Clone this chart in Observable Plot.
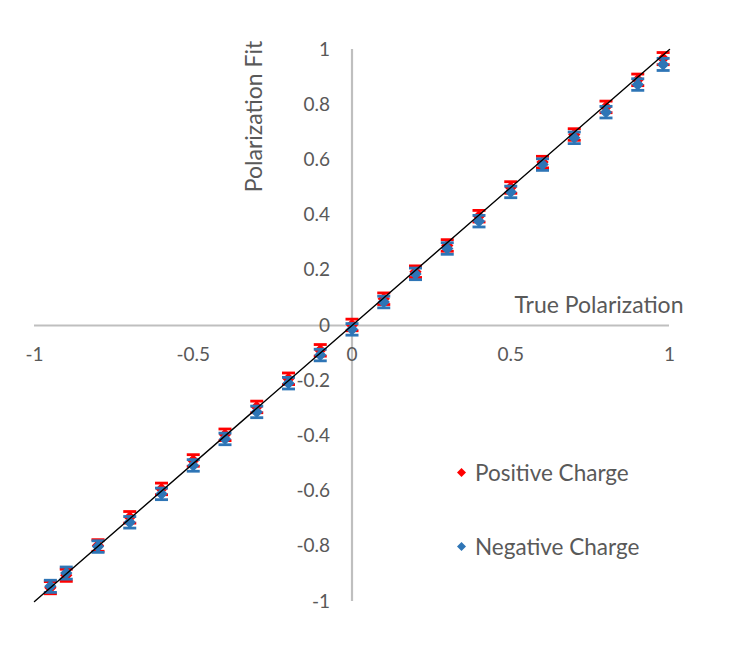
<!DOCTYPE html>
<html>
<head>
<meta charset="utf-8">
<script src="https://cdn.jsdelivr.net/npm/d3@7"></script>
<script src="https://cdn.jsdelivr.net/npm/@observablehq/plot@0.6"></script>
<style>
  html, body { margin: 0; padding: 0; background: #fff; }
  #wrap { position: relative; width: 734px; height: 657px; font-family: Lato, "Open Sans", sans-serif; color: #595959; }
  .leg { position: absolute; font-size: 22.5px; white-space: nowrap; display: flex; align-items: center; }
  .leg svg { margin-right: 8px; }
</style>
</head>
<body>
<div id="wrap"></div>
<script>
// True polarization values (x)
const truePol = [-0.95, -0.9, -0.8, -0.7, -0.6, -0.5, -0.4, -0.3, -0.2, -0.1, 0, 0.1, 0.2, 0.3, 0.4, 0.5, 0.6, 0.7, 0.8, 0.9, 0.98];
// Fitted polarization, positive charge
const posFit = [-0.950, -0.905, -0.797, -0.695, -0.592, -0.489, -0.396, -0.295, -0.193, -0.090, 0.002, 0.097, 0.195, 0.290, 0.396, 0.500, 0.592, 0.692, 0.792, 0.890, 0.967];
const posErr = [0.022, 0.022, 0.021, 0.021, 0.021, 0.021, 0.021, 0.021, 0.021, 0.021, 0.021, 0.021, 0.021, 0.021, 0.021, 0.021, 0.021, 0.021, 0.021, 0.021, 0.022];
// Fitted polarization, negative charge
const negFit = [-0.945, -0.897, -0.801, -0.713, -0.610, -0.507, -0.411, -0.313, -0.209, -0.107, -0.014, 0.085, 0.187, 0.279, 0.378, 0.484, 0.583, 0.680, 0.773, 0.873, 0.946];
const negErr = [0.022, 0.022, 0.021, 0.021, 0.021, 0.021, 0.021, 0.021, 0.021, 0.021, 0.021, 0.021, 0.021, 0.021, 0.021, 0.021, 0.021, 0.021, 0.021, 0.021, 0.022];
// Axis ticks
const xTicks = [-1, -0.5, 0, 0.5, 1];
const yTicks = [1, 0.8, 0.6, 0.4, 0.2, 0, -0.2, -0.4, -0.6, -0.8, -1];
const diagonal = [-1, 1];
const seriesNames = ["Positive Charge", "Negative Charge"];
const seriesColors = ["#FF0000", "#2E75B6"];

const pos = truePol.map((x, i) => ({x, y: posFit[i], e: posErr[i]}));
const neg = truePol.map((x, i) => ({x, y: negFit[i], e: negErr[i]}));

const cap = {
  draw(ctx, size) {
    const w = Math.sqrt(size / Math.PI);
    ctx.moveTo(-w, 0);
    ctx.lineTo(w, 0);
  }
};

const textColor = "#595959";
const axisColor = "#BFBFBF";
const fs = 19;
const titleFs = 23;

function series(data, color) {
  return [
    Plot.ruleX(data, {x: "x", y1: d => d.y - d.e, y2: d => d.y + d.e, stroke: color, strokeWidth: 1.6}),
    Plot.dot(data, {x: "x", y: d => d.y + d.e, symbol: cap, r: 6.5, stroke: color, fill: "none", strokeWidth: 2.8}),
    Plot.dot(data, {x: "x", y: d => d.y - d.e, symbol: cap, r: 6.5, stroke: color, fill: "none", strokeWidth: 2.8}),
    Plot.dot(data, {x: "x", y: "y", symbol: "diamond2", r: 4.8, fill: color, stroke: color, strokeWidth: 1.2})
  ];
}

const chart = Plot.plot({
  width: 734,
  height: 657,
  marginLeft: 34,
  marginRight: 65,
  marginTop: 49,
  marginBottom: 56,
  x: {domain: [-1, 1], axis: null},
  y: {domain: [-1, 1], axis: null},
  style: {fontFamily: "Lato, 'Open Sans', sans-serif", fontSize: fs + "px", color: textColor, background: "white", overflow: "visible"},
  marks: [
    Plot.ruleY([0], {x1: -1, x2: 1, stroke: axisColor, strokeWidth: 2.2}),
    Plot.ruleX([0], {y1: -1, y2: 1, stroke: axisColor, strokeWidth: 2.2}),
    Plot.text(xTicks, {x: d => d, y: 0, text: d => String(d), dy: 29, fill: textColor, fontSize: fs}),
    Plot.text(yTicks, {x: 0, y: d => d, text: d => String(d), textAnchor: "end", dx: -22, fill: textColor, fontSize: fs}),
    Plot.text(["True Polarization"], {frameAnchor: "right", textAnchor: "end", dx: 14, dy: -20, fill: textColor, fontSize: titleFs}),
    Plot.text(["Polarization Fit"], {frameAnchor: "top", rotate: -90, textAnchor: "middle", dx: -106, dy: 67, fill: textColor, fontSize: titleFs}),
    ...series(pos, seriesColors[0]),
    ...series(neg, seriesColors[1]),
    Plot.line(diagonal, {x: d => d, y: d => d, stroke: "#000", strokeWidth: 1.4})
  ]
});

const wrap = document.getElementById("wrap");
wrap.appendChild(chart);

const legTops = [472, 546];
seriesNames.forEach((name, i) => {
  const div = document.createElement("div");
  div.className = "leg";
  div.style.left = "456px";
  div.style.top = (legTops[i] - 15) + "px";
  div.style.height = "30px";
  div.innerHTML = `<svg width="11" height="11" viewBox="-5.5 -5.5 11 11"><path d="M0,-4.5L4.5,0L0,4.5L-4.5,0Z" fill="${seriesColors[i]}"/></svg><span>${name}</span>`;
  wrap.appendChild(div);
});
</script>
</body>
</html>
